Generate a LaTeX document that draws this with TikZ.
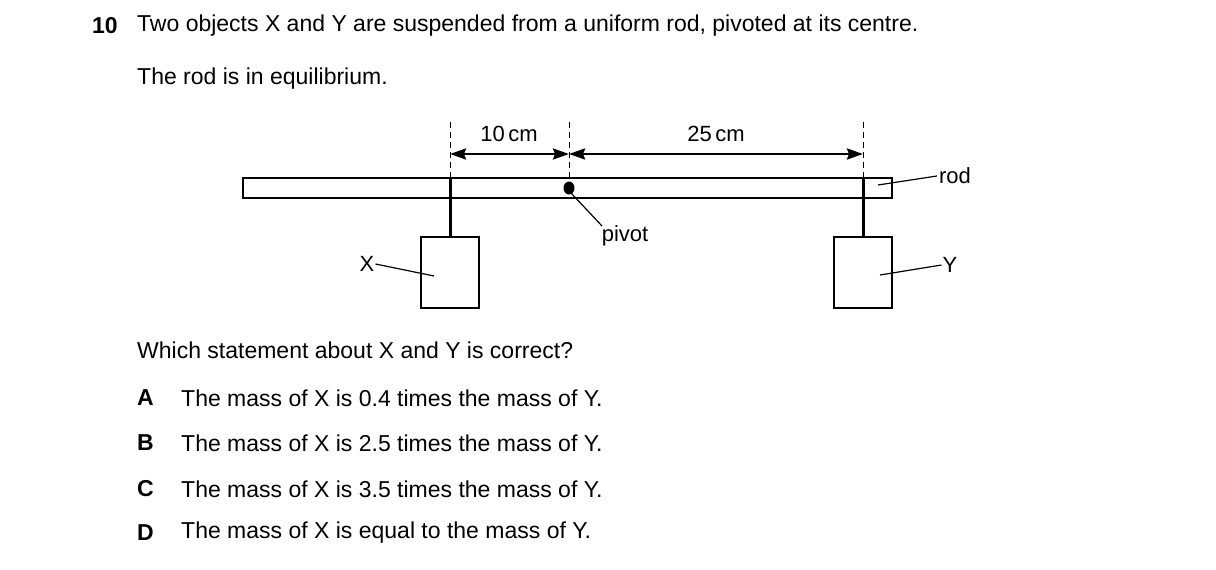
\documentclass[tikz,border=0pt]{standalone}
\usepackage{fontspec}
\setmainfont{Liberation Sans}
\usetikzlibrary{arrows.meta}
\begin{document}
\begin{tikzpicture}[x=1pt,y=-1pt,
  txt/.style={anchor=west,inner sep=0pt,font=\fontsize{23}{27}\selectfont},
  lbl/.style={inner sep=0pt,font=\fontsize{22}{26}\selectfont},
  thick line/.style={line width=3pt},
  box/.style={draw,line width=2.4pt,minimum width=58pt,minimum height=71pt,inner sep=0pt},
  dim/.style={line width=2.4pt,{Stealth[length=16pt,width=11pt,inset=2pt]}-{Stealth[length=16pt,width=11pt,inset=2pt]}},
  dsh/.style={line width=1pt,dash pattern=on 6pt off 4pt},
  lead/.style={line width=1.2pt}]
\useasboundingbox (0,0) rectangle (1216,570);
\node[txt,font=\fontsize{23}{27}\selectfont\bfseries] (num) at (92,26) {10};
\node[txt] (q1) at (137,26) {Two objects X and Y are suspended from a uniform rod, pivoted at its centre.};
\node[txt] (q2) at (137,79) {The rod is in equilibrium.};
% rod
\node[draw,line width=2.4pt,minimum width=649pt,minimum height=20pt,inner sep=0pt] (rod) at (567.5,188) {};
\coordinate (lt) at (450,122); \coordinate (lb) at (450,178);
\coordinate (pt) at (569,122); \coordinate (pb) at (569,178);
\coordinate (rt) at (863,122); \coordinate (rb) at (863,178);
\draw[dsh] (lt)--(lb); \draw[dsh] (pt)--(pb); \draw[dsh] (rt)--(rb);
\coordinate (la) at (450,154); \coordinate (pa) at (569,154); \coordinate (ra) at (863,154);
\draw[dim] (la)--(pa); \draw[dim] (pa)--(ra);
\node[lbl] (d1) at (509,134) {10\,cm};
\node[lbl] (d2) at (716,134) {25\,cm};
\fill (569,188) ellipse (5.5pt and 6.5pt);
\coordinate (pv) at (571,193);
\node[box] (X) at (450,272.5) {};
\node[box] (Y) at (863,272.5) {};
\draw[thick line] (450,178)--(X.north);
\draw[thick line] (863,178)--(Y.north);
\node[lbl] (piv) at (625,236) {pivot};
\draw[lead] (pv)--(602,226);
\node[lbl] (rl) at (955,176) {rod};
\draw[lead] (878,185)--([xshift=-2pt]rl.west);
\node[lbl] (xl) at (367,264) {X};
\draw[lead] ([xshift=1pt]xl.east)--(434,276);
\node[lbl] (yl) at (950,265) {Y};
\draw[lead] ([xshift=-1pt]yl.west)--(880,275);
\node[txt] (q3) at (137,350) {Which statement about X and Y is correct?};
\foreach \l/\t/\y in {A/The mass of X is 0.4 times the mass of Y./398, B/The mass of X is 2.5 times the mass of Y./443, C/The mass of X is 3.5 times the mass of Y./489, D/The mass of X is equal to the mass of Y./533}{
  \node[txt,font=\fontsize{23}{27}\selectfont\bfseries] (o\l) at (137,\y) {\l};
  \node[txt] (t\l) at (181,\y) {\t};
}
\end{tikzpicture}
\end{document}
